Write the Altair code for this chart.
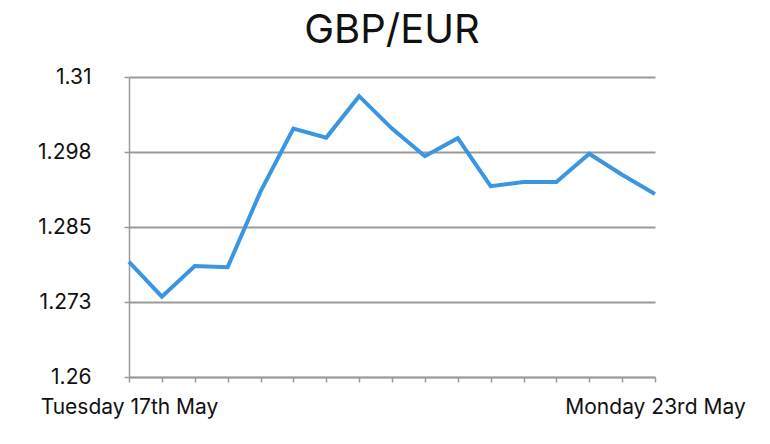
import altair as alt
import pandas as pd

# Data
idx = list(range(17))
rate = [1.2792, 1.2734, 1.2785, 1.2783, 1.2909, 1.3014, 1.2999, 1.3068, 1.3014,
        1.2968, 1.2998, 1.2918, 1.2925, 1.2925, 1.2972, 1.2937, 1.2905]
x_tick_labels = {0: "Tuesday 17th May", 16: "Monday 23rd May"}
y_tick_values = [1.26, 1.2725, 1.285, 1.2975, 1.31]
y_tick_labels = ["1.26", "1.273", "1.285", "1.298", "1.31"]

df = pd.DataFrame({"i": idx, "rate": rate})

x_expr = " : ".join(f"datum.value == {k} ? '{v}'" for k, v in x_tick_labels.items()) + " : ''"
y_expr = " : ".join(
    f"abs(datum.value - {v}) < 0.0001 ? '{l}'" for v, l in zip(y_tick_values, y_tick_labels)
) + " : ''"

FONT = "Inter"
GRAY = "#9a9a9a"

chart = (
    alt.Chart(df)
    .mark_line(color="#3a96e0", strokeWidth=4, strokeJoin="miter")
    .encode(
        x=alt.X(
            "i:Q",
            scale=alt.Scale(domain=[0, 16], nice=False, zero=False),
            axis=alt.Axis(
                values=idx,
                labelExpr=x_expr,
                grid=False,
                title=None,
                tickSize=5,
                labelPadding=14,
                labelFlush=False,
                labelOverlap=False,
                labelLimit=400,
            ),
        ),
        y=alt.Y(
            "rate:Q",
            scale=alt.Scale(domain=[1.26, 1.31], nice=False, zero=False),
            axis=alt.Axis(
                values=y_tick_values,
                labelExpr=y_expr,
                grid=True,
                title=None,
                tickSize=5,
                labelPadding=33,
                labelOverlap=False,
            ),
        ),
    )
    .properties(
        width=526,
        height=300,
        title=alt.TitleParams(
            "GBP/EUR",
            fontSize=40,
            font=FONT,
            fontWeight="normal",
            color="#111111",
            anchor="middle",
            baseline="alphabetic",
            offset=-17,
        ),
        autosize=alt.AutoSizeParams(type="none"),
        padding={"left": 121, "top": 69, "right": 107, "bottom": 59},
    )
    .configure_view(stroke=None)
    .configure_axis(
        labelFont=FONT,
        labelFontSize=21,
        labelColor="#111111",
        domainColor=GRAY,
        domainWidth=1.5,
        tickColor=GRAY,
        tickWidth=1.5,
        gridColor=GRAY,
        gridWidth=2,
        gridOpacity=1,
    )
)

chart.save("out.html", embed_options={"renderer": "svg", "actions": False})
